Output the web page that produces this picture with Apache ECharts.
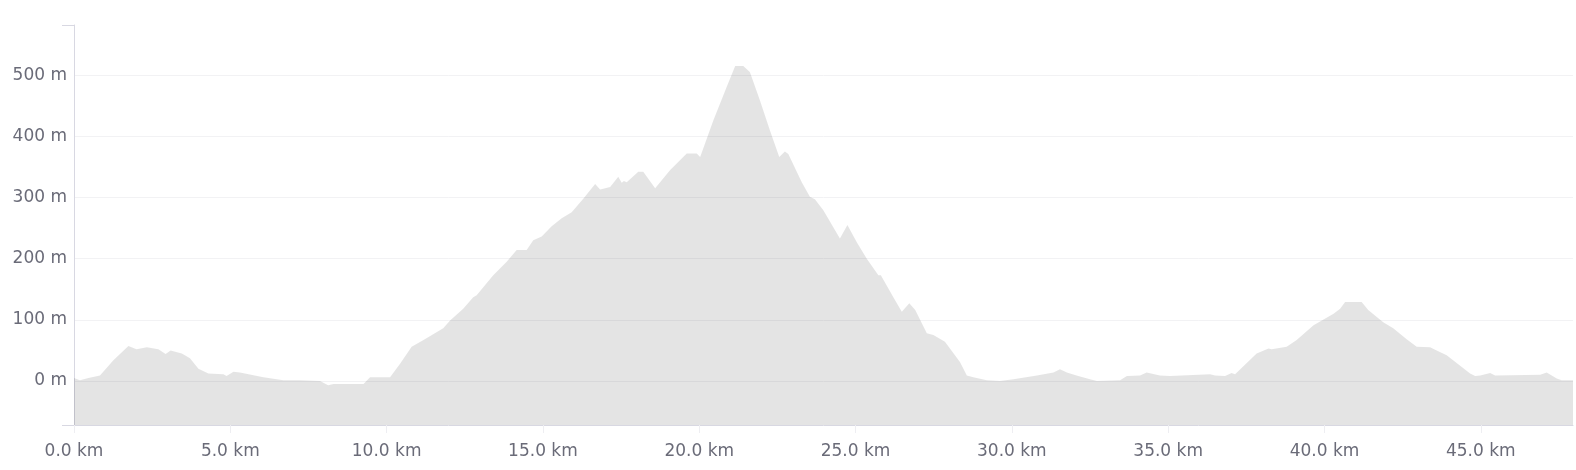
<!DOCTYPE html>
<html>
<head>
<meta charset="utf-8">
<script src="https://cdn.jsdelivr.net/npm/echarts@6/dist/echarts.min.js"></script>
<style>
  html, body { margin: 0; padding: 0; background: #ffffff; }
  #chart { width: 1576px; height: 470px; }
</style>
</head>
<body>
<div id="chart"></div>
<script>
// Distance along the route (km)
const distanceKm = [
  0, 0.19, 0.46, 0.83, 1.26, 1.74, 2.0, 2.33, 2.70, 2.93,
  3.09, 3.45, 3.71, 3.98, 4.30, 4.78, 4.88, 5.10, 5.31, 6.06,
  6.70, 7.23, 7.87, 8.13, 8.30, 9.26, 9.47, 10.11, 10.43, 10.80,
  11.18, 11.81, 12.03, 12.45, 12.77, 12.88, 13.41, 13.84, 14.16, 14.48,
  14.69, 14.96, 15.28, 15.60, 15.92, 16.29, 16.67, 16.83, 17.15, 17.41,
  17.52, 17.59, 17.68, 18.05, 18.21, 18.59, 19.07, 19.60, 19.92, 20.03,
  20.45, 20.88, 21.15, 21.41, 21.62, 21.94, 22.26, 22.56, 22.74, 22.85,
  23.28, 23.54, 23.70, 23.97, 24.50, 24.74, 25.04, 25.36, 25.73, 25.81,
  26.21, 26.48, 26.72, 26.91, 27.28, 27.49, 27.86, 28.34, 28.56, 28.77,
  29.20, 29.62, 30.05, 30.80, 31.33, 31.54, 31.76, 32.07, 32.50, 32.72,
  33.46, 33.68, 34.10, 34.31, 34.74, 35.06, 36.34, 36.50, 36.82, 37.03,
  37.14, 37.83, 38.21, 38.31, 38.79, 39.11, 39.65, 40.29, 40.50, 40.66,
  41.19, 41.40, 41.88, 42.20, 42.63, 42.95, 43.38, 43.54, 43.91, 44.66,
  44.82, 44.98, 45.30, 45.46, 46.90, 47.11, 47.43, 47.59, 47.95
];
// Elevation (m)
const elevationM = [
  5, 1, 5, 9, 34, 57, 52, 55, 52, 44,
  50, 45, 37, 20, 12, 11, 8, 15, 14, 6,
  1, 1, 0, -7, -5, -5, 6, 6, 28, 56,
  67, 86, 99, 118, 137, 140, 173, 195, 214, 214,
  230, 236, 253, 266, 276, 298, 322, 313, 317, 334,
  324, 327, 325, 342, 342, 315, 345, 372, 372, 366,
  426, 481, 515, 515, 505, 459, 410, 366, 375, 371,
  325, 301, 297, 279, 233, 255, 227, 200, 173, 173,
  137, 113, 127, 116, 78, 75, 64, 31, 9, 6,
  1, 0, 3, 9, 14, 19, 14, 9, 3, 0,
  1, 8, 9, 14, 9, 8, 11, 9, 8, 13,
  11, 45, 53, 52, 56, 67, 91, 110, 118, 129,
  129, 116, 96, 86, 68, 56, 55, 51, 42, 12,
  8, 9, 13, 9, 10, 14, 4, 1, 1
];
// Axis ranges
const xRange = [0, 47.95];
const yRange = [-72, 582];

const labelFont = { fontFamily: 'DejaVu Sans', fontSize: 17, color: '#6A6B78' };
const axisLineColor = '#D8D8E2';

const chart = echarts.init(document.getElementById('chart'), null, { renderer: 'canvas' });
chart.setOption({
  animation: false,
  backgroundColor: '#ffffff',
  grid: { left: 74, right: 3, top: 25, bottom: 45, containLabel: false },
  xAxis: {
    type: 'value',
    min: xRange[0],
    max: xRange[1],
    interval: 5,
    axisLine: { show: true, onZero: false, lineStyle: { color: axisLineColor, width: 1 } },
    axisTick: { show: true, length: 8, lineStyle: { color: '#EEEEF2' } },
    splitLine: { show: false },
    axisLabel: Object.assign({}, labelFont, {
      margin: 18,
      showMaxLabel: false,
      formatter: v => v.toFixed(1) + ' km'
    })
  },
  yAxis: [{
    type: 'value',
    min: yRange[0],
    max: yRange[1],
    minInterval: 100,
    maxInterval: 100,
    axisLine: { show: true, onZero: false, lineStyle: { color: axisLineColor, width: 1 } },
    axisTick: { show: false },
    splitLine: { show: true, showMinLine: false, showMaxLine: false, lineStyle: { color: '#F2F2F4', width: 1 } },
    axisLabel: Object.assign({}, labelFont, {
      margin: 7,
      padding: [0, 0, 4, 0],
      showMinLabel: false,
      showMaxLabel: false,
      formatter: v => v + ' m'
    })
  }, {
    type: 'value',
    position: 'left',
    min: yRange[0],
    max: yRange[1],
    axisLine: { show: false },
    splitLine: { show: false },
    axisLabel: { show: false },
    axisTick: { show: true, length: 12, customValues: yRange, lineStyle: { color: axisLineColor } }
  }],
  series: [{
    type: 'line',
    yAxisIndex: 0,
    data: distanceKm.map((d, i) => [d, elevationM[i]]),
    showSymbol: false,
    symbol: 'none',
    smooth: false,
    lineStyle: { width: 0 },
    areaStyle: { color: 'rgba(0,0,0,0.105)', opacity: 1, origin: 'start' },
    silent: true
  }]
});
</script>
</body>
</html>
